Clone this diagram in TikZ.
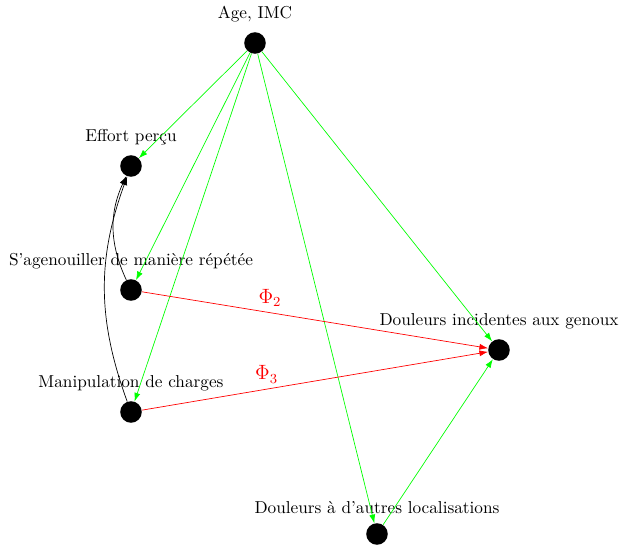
\documentclass[tikz,border=0pt]{standalone}
\usepackage{amsmath,amssymb}
\usepackage{xcolor}
\usepackage{tikz}
\usetikzlibrary{arrows.meta}
\usetikzlibrary{positioning}

\begin{document}
\begin{tikzpicture}[x=0.58pt,y=-0.58pt,
          var/.style={circle,fill=black,minimum size=12.5pt,inner sep=0pt},
          lab/.style={label distance=2pt},
          conf/.style={->,>={Latex[length=5pt,width=3.5pt]},green},
          eff/.style={->,>={Latex[length=5pt,width=3.5pt]},red},
          med/.style={->,>={Latex[length=5pt,width=3.5pt]},black}]
          \useasboundingbox (0,0) rectangle (619,545);
          \node[var,label={[lab]above:Age, IMC}](age) at (255,43){};
          \node[var,label={[lab]above:Effort perçu}](effort) at (131,166){};
          \node[var,label={[lab]above:S'agenouiller de manière répétée}](agen) at (131,290){};
          \node[var,label={[lab]above:Manipulation de charges}](manip) at (131,412){};
          \node[var,label={[lab]above:Douleurs incidentes aux genoux}](genou) at (499,350){};
          \node[var,label={[lab]above:Douleurs à d'autres localisations}](autres) at (377,534){};
          \draw[conf](age)--(effort); \draw[conf](age)--(agen);
          \draw[conf](age)--(manip); \draw[conf](age)--(genou);
          \draw[conf](age)--(autres); \draw[conf](autres)--(genou);
          \draw[med](agen) to[bend left=25] (effort);
          \draw[med](manip) to[bend left=20] (effort);
          \draw[eff](agen)--node[pos=0.37,above,font=\large]{$\Phi_2$}(genou);
          \draw[eff](manip)--node[pos=0.36,above,font=\large]{$\Phi_3$}(genou);
        \end{tikzpicture}
\end{document}
